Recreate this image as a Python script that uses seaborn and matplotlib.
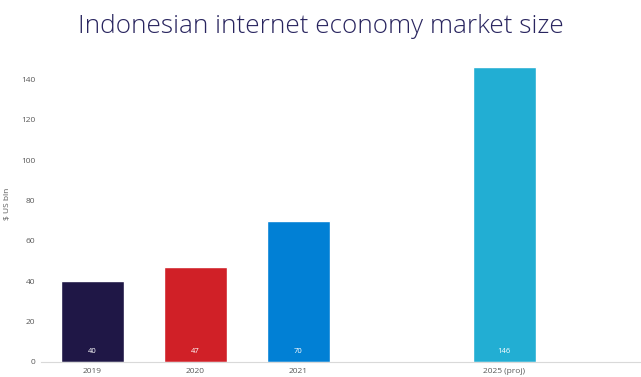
import matplotlib
matplotlib.use("Agg")
import matplotlib.pyplot as plt
import seaborn as sns
import pandas as pd

years = ["2019", "2020", "2021", "2025 (proj)"]
market_size = [40, 47, 70, 146]
bar_colors = ["#1F1746", "#D02027", "#0180D5", "#22AED3"]
slot_order = ["2019", "2020", "2021", " ", "2025 (proj)"]
y_ticks = [0, 20, 40, 60, 80, 100, 120, 140]

sns.set_theme(style="white")
plt.rcParams["font.family"] = ["Open Sans", "DejaVu Sans"]

df = pd.DataFrame({"year": years, "value": market_size})

fig = plt.figure(figsize=(6.41, 3.77), dpi=100)
ax = fig.add_axes([41 / 641, 15 / 377, 600 / 641, 317 / 377])

sns.barplot(data=df, x="year", y="value", hue="year", order=slot_order,
            palette=dict(zip(years, bar_colors)), width=0.61, dodge=False,
            legend=False, ax=ax, saturation=1)

for i, (yr, v) in enumerate(zip(years, market_size)):
    ax.text(slot_order.index(yr), 5, f"{v}", color="white", fontsize=5.5,
            ha="center", va="center")

ax.set_xlim(-0.5, 5.33)
ax.set_ylim(0, 157)
ax.set_yticks(y_ticks)
ax.tick_params(axis="y", labelsize=6, labelcolor="#595959", length=0, pad=4)
ax.tick_params(axis="x", labelsize=6, labelcolor="#595959", length=0, pad=4)
ax.set_xlabel("")
ax.set_ylabel("$ US bln", fontsize=6, color="#595959")
ax.yaxis.set_label_coords(-0.05, 0.5)
for s in ["top", "right", "left"]:
    ax.spines[s].set_visible(False)
ax.spines["bottom"].set_color("#D9D9D9")
ax.spines["bottom"].set_linewidth(0.8)

fig.text(0.5, 0.93, "Indonesian internet economy market size", ha="center",
         va="center", fontsize=18.8, color="#29255F",
         family=["Open Sans", "DejaVu Sans"], fontweight="light")

fig.savefig("out.png", dpi=100)
